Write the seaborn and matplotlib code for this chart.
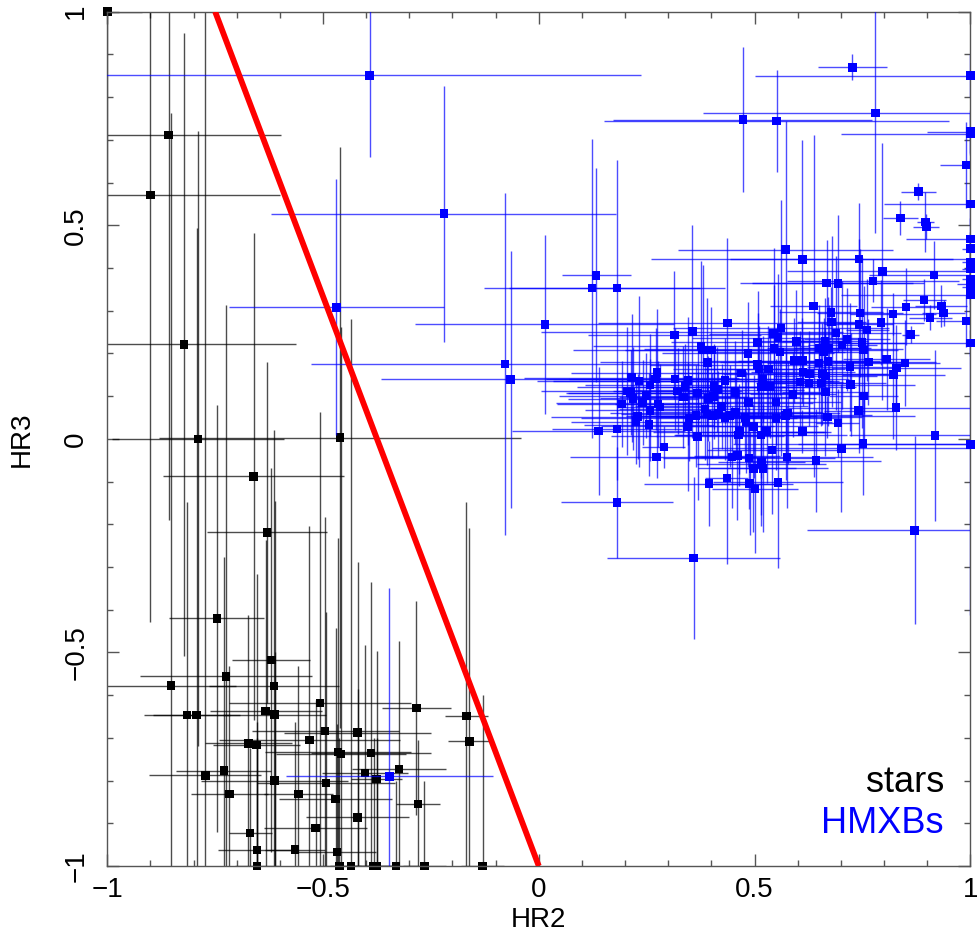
import numpy as np
import pandas as pd
import seaborn as sns
import matplotlib.pyplot as plt
from matplotlib.ticker import MultipleLocator

# stars (black)
star_hr2 = [
    -1.000, -0.858, -0.900, -0.822, -0.790, -0.461, -0.661, -0.630, -0.746, -0.620,
    -0.725, -0.852, -0.614, -0.507, -0.284, -0.815, -0.793, -0.633, -0.612, -0.495,
    -0.420, -0.532, -0.673, -0.654, -0.465, -0.458, -0.389, -0.324, -0.403, -0.376,
    -0.730, -0.773, -0.612, -0.493, -0.717, -0.557, -0.471, -0.280, -0.420, -0.517,
    -0.669, -0.653, -0.565, -0.468, -0.653, -0.462, -0.435, -0.383, -0.376, -0.331,
    -0.265, -0.130, -0.168, -0.161,
]
star_hr3 = [
    1.000, 0.711, 0.571, 0.221, 0.000, 0.003, -0.088, -0.219, -0.420, -0.518,
    -0.556, -0.578, -0.579, -0.618, -0.630, -0.647, -0.647, -0.637, -0.646, -0.684,
    -0.688, -0.705, -0.713, -0.717, -0.733, -0.738, -0.735, -0.773, -0.782, -0.796,
    -0.777, -0.788, -0.800, -0.806, -0.831, -0.831, -0.843, -0.855, -0.886, -0.911,
    -0.923, -0.963, -0.962, -0.967, -1.000, -1.000, -1.000, -1.000, -1.000, -1.000,
    -1.000, -1.000, -0.649, -0.708,
]
star_hr2_err = [
    0.08, 0.26, 0.30, 0.26, 0.20, 0.42, 0.21, 0.14, 0.11, 0.09,
    0.20, 0.15, 0.15, 0.21, 0.08, 0.10, 0.10, 0.13, 0.12, 0.17,
    0.17, 0.21, 0.10, 0.10, 0.17, 0.15, 0.14, 0.11, 0.10, 0.06,
    0.11, 0.13, 0.17, 0.16, 0.09, 0.08, 0.13, 0.05, 0.12, 0.12,
    0.05, 0.09, 0.07, 0.09, 0.05, 0.05, 0.05, 0.05, 0.05, 0.05,
    0.05, 0.05, 0.05, 0.05,
]
star_hr3_err = [
    0.60, 0.90, 1.00, 0.73, 0.72, 0.68, 0.57, 0.40, 0.50, 0.45,
    0.87, 1.34, 0.60, 0.68, 0.25, 0.50, 1.14, 0.40, 0.50, 0.50,
    0.40, 0.50, 0.30, 0.40, 0.50, 1.00, 0.40, 0.30, 0.30, 0.30,
    0.50, 1.80, 0.30, 0.40, 0.30, 0.30, 0.40, 0.15, 0.30, 0.30,
    0.20, 0.30, 0.30, 0.30, 0.30, 0.30, 1.28, 0.30, 0.30, 0.20,
    0.20, 0.40, 0.50, 0.50,
]

# HMXBs (blue)
hmxb_hr2 = [
    -0.392, -0.220, -0.469, 0.014, -0.078, -0.065, -0.346, 0.727, 1.000, 0.473,
    0.551, 0.780, 1.000, 1.000, 0.990, 0.880, 1.000, 0.838, 0.896, 0.898,
    1.000, 1.000, 0.572, 0.611, 0.742, 1.000, 1.000, 0.796, 1.000, 1.000,
    1.000, 0.667, 0.693, 0.775, 0.916, 1.000, 0.893, 0.933, 0.938, 0.907,
    0.851, 0.637, 0.677, 0.744, 0.821, 0.990, 0.679, 0.742, 0.793, 0.761,
    0.862, 0.689, 0.597, 0.663, 0.714, 0.703, 0.749, 0.753, 1.000, 0.650,
    0.672, 0.660, 0.591, 0.611, 0.649, 0.670, 0.764, 0.806, 0.849, 0.721,
    0.829, 0.612, 0.627, 0.657, 0.664, 0.822, 0.605, 0.626, 0.654, 0.723,
    0.664, 0.589, 0.753, 0.828, 0.741, 0.577, 0.572, 0.669, 0.693, 0.611,
    0.918, 1.000, 0.751, 0.701, 0.642, 0.516, 0.871, 0.359, 0.181, 0.123,
    0.133, 0.181, 0.437, 0.356, 0.314, 0.561, 0.544, 0.554, 0.507, 0.376,
    0.380, 0.400, 0.545, 0.559, 0.485, 0.391, 0.507, 0.510, 0.532, 0.470,
    0.274, 0.215, 0.232, 0.271, 0.316, 0.346, 0.432, 0.520, 0.258, 0.339,
    0.406, 0.516, 0.536, 0.414, 0.322, 0.204, 0.213, 0.455, 0.368, 0.248,
    0.335, 0.393, 0.405, 0.218, 0.241, 0.486, 0.550, 0.192, 0.424, 0.276,
    0.281, 0.258, 0.385, 0.456, 0.416, 0.390, 0.229, 0.348, 0.364, 0.402,
    0.432, 0.443, 0.478, 0.573, 0.550, 0.480, 0.225, 0.255, 0.345, 0.498,
    0.465, 0.528, 0.139, 0.181, 0.463, 0.515, 0.368, 0.540, 0.575, 0.290,
    0.273, 0.448, 0.460, 0.487, 0.516, 0.497, 0.520, 0.436, 0.394, 0.489,
    0.501, 0.554,
]
hmxb_hr3 = [
    0.851, 0.527, 0.308, 0.268, 0.175, 0.139, -0.790, 0.870, 0.850, 0.747,
    0.744, 0.763, 0.719, 0.714, 0.641, 0.579, 0.550, 0.517, 0.508, 0.497,
    0.468, 0.445, 0.443, 0.420, 0.421, 0.413, 0.398, 0.392, 0.374, 0.363,
    0.355, 0.365, 0.364, 0.370, 0.384, 0.337, 0.325, 0.311, 0.295, 0.284,
    0.309, 0.311, 0.296, 0.295, 0.292, 0.276, 0.274, 0.268, 0.272, 0.255,
    0.244, 0.248, 0.228, 0.229, 0.233, 0.220, 0.225, 0.208, 0.224, 0.213,
    0.213, 0.203, 0.183, 0.183, 0.178, 0.181, 0.180, 0.187, 0.178, 0.169,
    0.166, 0.157, 0.152, 0.152, 0.147, 0.150, 0.133, 0.131, 0.131, 0.127,
    0.110, 0.104, 0.100, 0.073, 0.066, 0.061, 0.054, 0.051, 0.037, 0.017,
    0.008, -0.013, -0.011, -0.022, -0.051, -0.058, -0.214, -0.279, -0.149, 0.353,
    0.383, 0.353, 0.271, 0.251, 0.243, 0.260, 0.246, 0.237, 0.226, 0.217,
    0.208, 0.208, 0.211, 0.203, 0.200, 0.179, 0.174, 0.164, 0.164, 0.154,
    0.155, 0.143, 0.135, 0.140, 0.140, 0.136, 0.136, 0.140, 0.126, 0.122,
    0.122, 0.121, 0.122, 0.115, 0.112, 0.112, 0.108, 0.108, 0.107, 0.101,
    0.098, 0.095, 0.099, 0.094, 0.085, 0.085, 0.086, 0.082, 0.076, 0.082,
    0.075, 0.067, 0.070, 0.063, 0.060, 0.058, 0.052, 0.049, 0.054, 0.054,
    0.050, 0.054, 0.050, 0.056, 0.048, 0.039, 0.040, 0.033, 0.029, 0.029,
    0.017, 0.017, 0.018, 0.023, 0.009, 0.009, 0.006, -0.026, -0.042, -0.019,
    -0.042, -0.042, -0.039, -0.045, -0.055, -0.069, -0.069, -0.092, -0.105, -0.105,
    -0.117, -0.102,
]
hmxb_hr2_err = [
    0.63, 0.40, 0.25, 0.30, 0.45, 0.30, 0.24, 0.08, 0.50, 0.30,
    0.40, 0.40, 0.10, 0.30, 0.06, 0.04, 0.20, 0.04, 0.02, 0.03,
    0.15, 0.02, 0.25, 0.35, 0.30, 0.02, 0.02, 0.22, 0.02, 0.03,
    0.02, 0.20, 0.20, 0.20, 0.15, 0.30, 0.05, 0.06, 0.05, 0.05,
    0.08, 0.10, 0.12, 0.10, 0.10, 0.07, 0.08, 0.08, 0.10, 0.05,
    0.02, 0.15, 0.10, 0.10, 0.10, 0.08, 0.10, 0.08, 0.30, 0.12,
    0.08, 0.10, 0.20, 0.15, 0.12, 0.25, 0.08, 0.10, 0.08, 0.10,
    0.15, 0.12, 0.20, 0.15, 0.12, 0.12, 0.10, 0.10, 0.15, 0.15,
    0.10, 0.10, 0.08, 0.25, 0.08, 0.12, 0.30, 0.08, 0.05, 0.05,
    0.20, 0.40, 0.30, 0.30, 0.15, 0.15, 0.25, 0.20, 0.13, 0.25,
    0.08, 0.25, 0.30, 0.35, 0.20, 0.25, 0.15, 0.20, 0.20, 0.25,
    0.30, 0.20, 0.30, 0.15, 0.20, 0.25, 0.25, 0.20, 0.15, 0.15,
    0.20, 0.25, 0.20, 0.20, 0.30, 0.35, 0.25, 0.20, 0.15, 0.25,
    0.20, 0.15, 0.20, 0.20, 0.15, 0.20, 0.15, 0.20, 0.30, 0.20,
    0.15, 0.25, 0.20, 0.15, 0.20, 0.15, 0.15, 0.15, 0.20, 0.10,
    0.10, 0.15, 0.20, 0.20, 0.25, 0.20, 0.20, 0.25, 0.15, 0.20,
    0.15, 0.20, 0.15, 0.20, 0.15, 0.20, 0.15, 0.15, 0.20, 0.15,
    0.20, 0.15, 0.20, 0.15, 0.15, 0.20, 0.20, 0.15, 0.20, 0.05,
    0.20, 0.10, 0.10, 0.20, 0.10, 0.10, 0.15, 0.05, 0.15, 0.10,
    0.10, 0.15,
]
hmxb_hr3_err = [
    0.19, 0.30, 0.30, 0.21, 0.40, 0.30, 0.44, 0.03, 0.05, 0.17,
    0.12, 0.28, 0.05, 0.05, 0.10, 0.02, 0.05, 0.04, 0.07, 0.03,
    0.05, 0.04, 0.30, 0.28, 0.13, 0.05, 0.04, 0.30, 0.03, 0.03,
    0.04, 0.10, 0.16, 0.05, 0.08, 0.04, 0.05, 0.05, 0.03, 0.03,
    0.09, 0.40, 0.06, 0.15, 0.05, 0.06, 0.20, 0.20, 0.10, 0.12,
    0.02, 0.18, 0.12, 0.10, 0.12, 0.15, 0.20, 0.15, 0.03, 0.10,
    0.10, 0.08, 0.10, 0.10, 0.12, 0.15, 0.10, 0.12, 0.10, 0.15,
    0.10, 0.08, 0.10, 0.12, 0.10, 0.15, 0.12, 0.10, 0.10, 0.12,
    0.15, 0.10, 0.12, 0.10, 0.10, 0.12, 0.15, 0.05, 0.08, 0.05,
    0.20, 0.40, 0.12, 0.15, 0.12, 0.12, 0.22, 0.19, 0.13, 0.35,
    0.25, 0.30, 0.20, 0.25, 0.15, 0.30, 0.20, 0.15, 0.12, 0.20,
    0.20, 0.10, 0.15, 0.10, 0.12, 0.15, 0.12, 0.10, 0.10, 0.10,
    0.15, 0.15, 0.20, 0.12, 0.12, 0.15, 0.10, 0.10, 0.12, 0.10,
    0.10, 0.10, 0.12, 0.10, 0.10, 0.15, 0.10, 0.12, 0.10, 0.10,
    0.12, 0.10, 0.10, 0.12, 0.10, 0.15, 0.10, 0.10, 0.10, 0.10,
    0.10, 0.12, 0.12, 0.10, 0.10, 0.12, 0.10, 0.10, 0.12, 0.10,
    0.10, 0.12, 0.10, 0.10, 0.12, 0.12, 0.10, 0.12, 0.15, 0.12,
    0.10, 0.12, 0.15, 0.12, 0.12, 0.10, 0.15, 0.15, 0.12, 0.05,
    0.05, 0.12, 0.15, 0.12, 0.15, 0.15, 0.15, 0.20, 0.10, 0.12,
    0.15, 0.20,
]

# dividing line between the two populations
cut_hr2 = [-0.75, 0.0]
cut_hr3 = [1.0, -1.0]

stars = pd.DataFrame({'HR2': star_hr2, 'HR3': star_hr3,
                      'HR2_err': star_hr2_err, 'HR3_err': star_hr3_err})
hmxbs = pd.DataFrame({'HR2': hmxb_hr2, 'HR3': hmxb_hr3,
                      'HR2_err': hmxb_hr2_err, 'HR3_err': hmxb_hr3_err})

sns.set_style('white')
plt.rcParams['font.family'] = ['Liberation Sans', 'DejaVu Sans']
plt.rcParams['text.color'] = 'black'
plt.rcParams['axes.labelcolor'] = 'black'
plt.rcParams['xtick.color'] = 'black'
plt.rcParams['ytick.color'] = 'black'

fig = plt.figure(figsize=(9.78, 9.36), dpi=100)
ax = fig.add_axes([0.1097, 0.0748, 0.8824, 0.9127])

for df, col, z in [(stars, 'black', 1), (hmxbs, '#0000ff', 3)]:
    ax.errorbar(df['HR2'], df['HR3'], xerr=df['HR2_err'], yerr=df['HR3_err'],
                fmt='none', ecolor=col, elinewidth=1.0, alpha=0.7, capsize=0, zorder=z)
    sns.scatterplot(data=df, x='HR2', y='HR3', marker='s', s=38, color=col,
                    edgecolor='none', linewidth=0, ax=ax, zorder=z + 1)
    ax.collections[-1].set_clip_on(False)

ax.plot(cut_hr2, cut_hr3, color='red', lw=4.2, solid_capstyle='butt', zorder=6)

ax.set_xlim(-1, 1)
ax.set_ylim(-1, 1)
ax.xaxis.set_major_locator(MultipleLocator(0.5))
ax.yaxis.set_major_locator(MultipleLocator(0.5))
ax.xaxis.set_minor_locator(MultipleLocator(0.1))
ax.yaxis.set_minor_locator(MultipleLocator(0.1))
ax.tick_params(which='both', direction='in', top=True, right=True, bottom=True, left=True,
               color='#555555', labelcolor='black', width=1.0)
ax.tick_params(which='major', length=8.6)
ax.tick_params(which='minor', length=4.3)
ax.tick_params(axis='x', labelsize=20, pad=8)
ax.tick_params(axis='y', labelsize=20, pad=13, labelrotation=90)
for lab in ax.get_yticklabels():
    lab.set_va('center')
ax.xaxis.set_major_formatter(plt.FuncFormatter(lambda v, p: f'{v:g}'.replace('-', '\u2212')))
ax.yaxis.set_major_formatter(plt.FuncFormatter(lambda v, p: f'{v:g}'.replace('-', '\u2212')))

for sp in ax.spines.values():
    sp.set_color('#555555')
    sp.set_linewidth(1.0)

ax.set_xlabel('HR2', fontsize=20, va='center', color='black')
ax.set_ylabel('HR3', fontsize=20, va='center', color='black')
ax.xaxis.set_label_coords(0.5, -0.063)
ax.yaxis.set_label_coords(-0.099, 0.5)

ax.text(0.9695, 0.087, 'stars', transform=ax.transAxes, ha='right', va='baseline',
        fontsize=26, color='black')
ax.text(0.9695, 0.0386, 'HMXBs', transform=ax.transAxes, ha='right', va='baseline',
        fontsize=26, color='#0000ff')

fig.savefig('out.png', dpi=100)
